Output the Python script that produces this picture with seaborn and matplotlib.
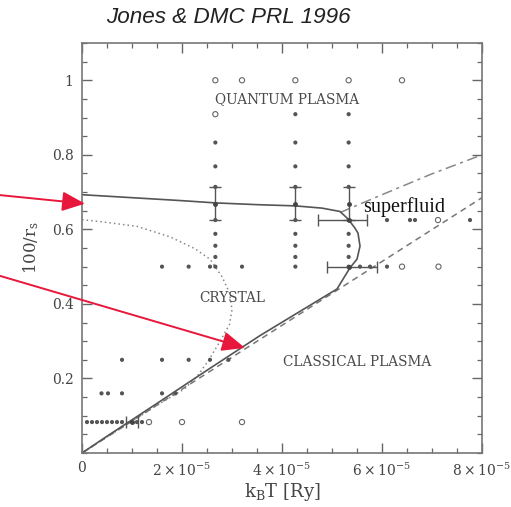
import numpy as np
import matplotlib
matplotlib.use("Agg")
import matplotlib.pyplot as plt
import seaborn as sns
from matplotlib.ticker import MultipleLocator

U = 1e-5  # x values below are in units of 1e-5 Ry

# ---------------- data ----------------
solid_x = [0, 1.0, 2.0, 2.667, 3.56, 4.267, 4.8, 5.16, 5.32, 5.45, 5.52, 5.56, 5.5, 5.36, 5.1, 4.36, 3.56, 2.5, 1.5, 0.5, 0]
solid_y = [0.693, 0.685, 0.677, 0.671, 0.666, 0.663, 0.657, 0.648, 0.628, 0.605, 0.59, 0.555, 0.52, 0.497, 0.44, 0.38, 0.315, 0.222, 0.133, 0.045, 0]

dashed_x = [0, 8.0]
dashed_y = [0, 0.685]

dashdot_x = [5.16, 6.0, 7.0, 8.0]
dashdot_y = [0.645, 0.693, 0.749, 0.80]

dotted_x = [0, 0.42, 1.1, 1.76, 2.26, 2.56, 2.8, 2.95, 3.0, 2.95, 2.8, 2.54, 2.3, 2.05, 1.5, 1.0, 0.5, 0]
dotted_y = [0.626, 0.62, 0.608, 0.58, 0.548, 0.52, 0.473, 0.43, 0.384, 0.345, 0.309, 0.25, 0.205, 0.172, 0.128, 0.085, 0.043, 0]

filled_x = [4.267, 5.333,
            2.667, 4.267, 5.333,
            2.667, 4.267, 5.333,
            2.667, 4.267, 5.333,
            2.667, 4.267, 5.333, 6.1, 6.56, 6.66, 7.76,
            2.667, 4.267, 5.333,
            2.667, 4.267, 5.333,
            2.667, 4.267, 5.333,
            1.6, 2.133, 2.56, 2.667, 3.2, 4.267, 5.333, 5.56, 5.76, 6.1,
            0.8, 1.6, 2.133, 2.56, 2.93,
            0.39, 0.52, 0.8, 1.6, 1.87,
            0.1, 0.2, 0.3, 0.4, 0.5, 0.6, 0.7, 0.8, 1.0, 1.1, 1.2]
filled_y = [0.909, 0.909,
            0.833, 0.833, 0.833,
            0.769, 0.769, 0.769,
            0.714, 0.714, 0.714,
            0.625, 0.625, 0.625, 0.625, 0.625, 0.625, 0.625,
            0.588, 0.588, 0.588,
            0.556, 0.556, 0.556,
            0.526, 0.526, 0.526,
            0.5, 0.5, 0.5, 0.5, 0.5, 0.5, 0.5, 0.5, 0.5, 0.5,
            0.25, 0.25, 0.25, 0.25, 0.25,
            0.16, 0.16, 0.16, 0.16, 0.16,
            0.083, 0.083, 0.083, 0.083, 0.083, 0.083, 0.083, 0.083, 0.083, 0.083, 0.083]

open_x = [2.667, 3.2, 4.267, 5.333, 6.4, 2.667, 6.4, 7.13, 7.12, 1.34, 2.0, 3.2]
open_y = [1.0, 1.0, 1.0, 1.0, 1.0, 0.909, 0.5, 0.5, 0.625, 0.083, 0.083, 0.083]

# vertical error bars
verr_x = [2.667, 4.267, 5.333]
verr_y = [0.667, 0.667, 0.667]
verr_lo = [0.042, 0.042, 0.042]
verr_hi = [0.047, 0.047, 0.047]

# horizontal error bars
herr_x = [5.333, 5.333, 1.0]
herr_y = [0.625, 0.5, 0.083]
herr_lo = [0.61, 0.43, 0.12]
herr_hi = [0.37, 0.57, 0.12]

x_ticks = [0, 2, 4, 6, 8]
x_tick_labels = ["0", r"$2\times10^{-5}$", r"$4\times10^{-5}$", r"$6\times10^{-5}$", r"$8\times10^{-5}$"]
y_ticks = [0.2, 0.4, 0.6, 0.8, 1.0]
y_tick_labels = ["0.2", "0.4", "0.6", "0.8", "1"]

# ---------------- style ----------------
sns.set_theme(style="ticks")
plt.rcParams['font.family'] = ['DejaVu Serif']
plt.rcParams['mathtext.fontset'] = 'dejavuserif'

fig = plt.figure(figsize=(5.11, 5.07), dpi=100)
ax = fig.add_axes([82/511, 1-453/507, 400/511, 410/507])

sx = lambda v: np.asarray(v, dtype=float) * U

sns.lineplot(x=sx(dashed_x), y=dashed_y, sort=False, estimator=None, color='#777777',
             lw=1.1, linestyle=(0, (4, 3)), ax=ax)
sns.lineplot(x=sx(dashdot_x), y=dashdot_y, sort=False, estimator=None, color='#888888',
             lw=1.1, linestyle=(0, (7, 3, 2, 3)), ax=ax)
sns.lineplot(x=sx(dotted_x), y=dotted_y, sort=False, estimator=None, color='#888888',
             lw=1.1, linestyle=(0, (1, 2)), ax=ax)
sns.lineplot(x=sx(solid_x), y=solid_y, sort=False, estimator=None, color='#555555',
             lw=1.2, ax=ax)

sns.scatterplot(x=sx(filled_x), y=filled_y, marker='o', s=9, color='#555555',
                edgecolor='none', ax=ax, zorder=3)
sns.scatterplot(x=sx(open_x), y=open_y, marker='o', s=14, facecolor='none',
                edgecolor='#666666', linewidth=0.8, ax=ax, zorder=3)

ax.errorbar(sx(verr_x), verr_y, yerr=[verr_lo, verr_hi], fmt='o', ms=2.5,
            color='#444444', ecolor='#555555', elinewidth=1.0, capsize=4, capthick=1.0, zorder=4)
ax.errorbar(sx(herr_x), herr_y, xerr=[sx(herr_lo), sx(herr_hi)], fmt='o', ms=2.5,
            color='#444444', ecolor='#555555', elinewidth=1.0, capsize=4, capthick=1.0, zorder=4)

ax.set_xlim(0, 8 * U)
ax.set_ylim(0, 1.1)
ax.set_xticks(sx(x_ticks), x_tick_labels)
ax.set_yticks(y_ticks, y_tick_labels)
ax.xaxis.set_minor_locator(MultipleLocator(0.5 * U))
ax.yaxis.set_minor_locator(MultipleLocator(0.05))
ax.tick_params(which='both', direction='in', top=True, right=True, color='#666666',
               labelcolor='#444444', labelsize=10, pad=6)
ax.tick_params(which='major', length=7, width=1.0)
ax.tick_params(which='minor', length=3.5, width=0.9)
for sp in ax.spines.values():
    sp.set_color('#777777')
    sp.set_linewidth(1.2)

ax.set_xlabel(r'k$_\mathregular{B}$T [Ry]', fontsize=13, color='#444444', labelpad=2)
ax.set_ylabel(r'100/r$_\mathregular{s}$', fontsize=12, color='#444444', labelpad=8)

ax.text(4.1 * U, 0.949, "QUANTUM PLASMA", ha='center', va='center', fontsize=9.8, color='#4a4a4a')
ax.text(3.0 * U, 0.417, "CRYSTAL", ha='center', va='center', fontsize=9.8, color='#4a4a4a')
ax.text(5.5 * U, 0.245, "CLASSICAL PLASMA", ha='center', va='center', fontsize=9.8, color='#4a4a4a')
ax.text(6.44 * U, 0.661, "superfluid", ha='center', va='center', fontsize=14.5,
        family=['Liberation Serif', 'DejaVu Serif'], color='#111111')

fig.text(106/511, 1 - 23/507, "Jones & DMC PRL 1996", ha='left', va='baseline',
         fontsize=16.2, style='italic', family=['Liberation Sans', 'DejaVu Sans'], color='#222222')

red = '#e8173c'
arrow = dict(arrowstyle='-|>,head_length=0.7,head_width=0.3', color=red, lw=1.4,
             mutation_scale=20, shrinkA=0, shrinkB=0)
ax.annotate("", xy=(0.06 * U, 0.669), xycoords='data', xytext=(-0.205, 0.629),
            textcoords='axes fraction', arrowprops=arrow, annotation_clip=False)
ax.annotate("", xy=(3.26 * U, 0.282), xycoords='data', xytext=(-0.205, 0.432),
            textcoords='axes fraction', arrowprops=arrow, annotation_clip=False)

fig.savefig("out.png", dpi=100)
